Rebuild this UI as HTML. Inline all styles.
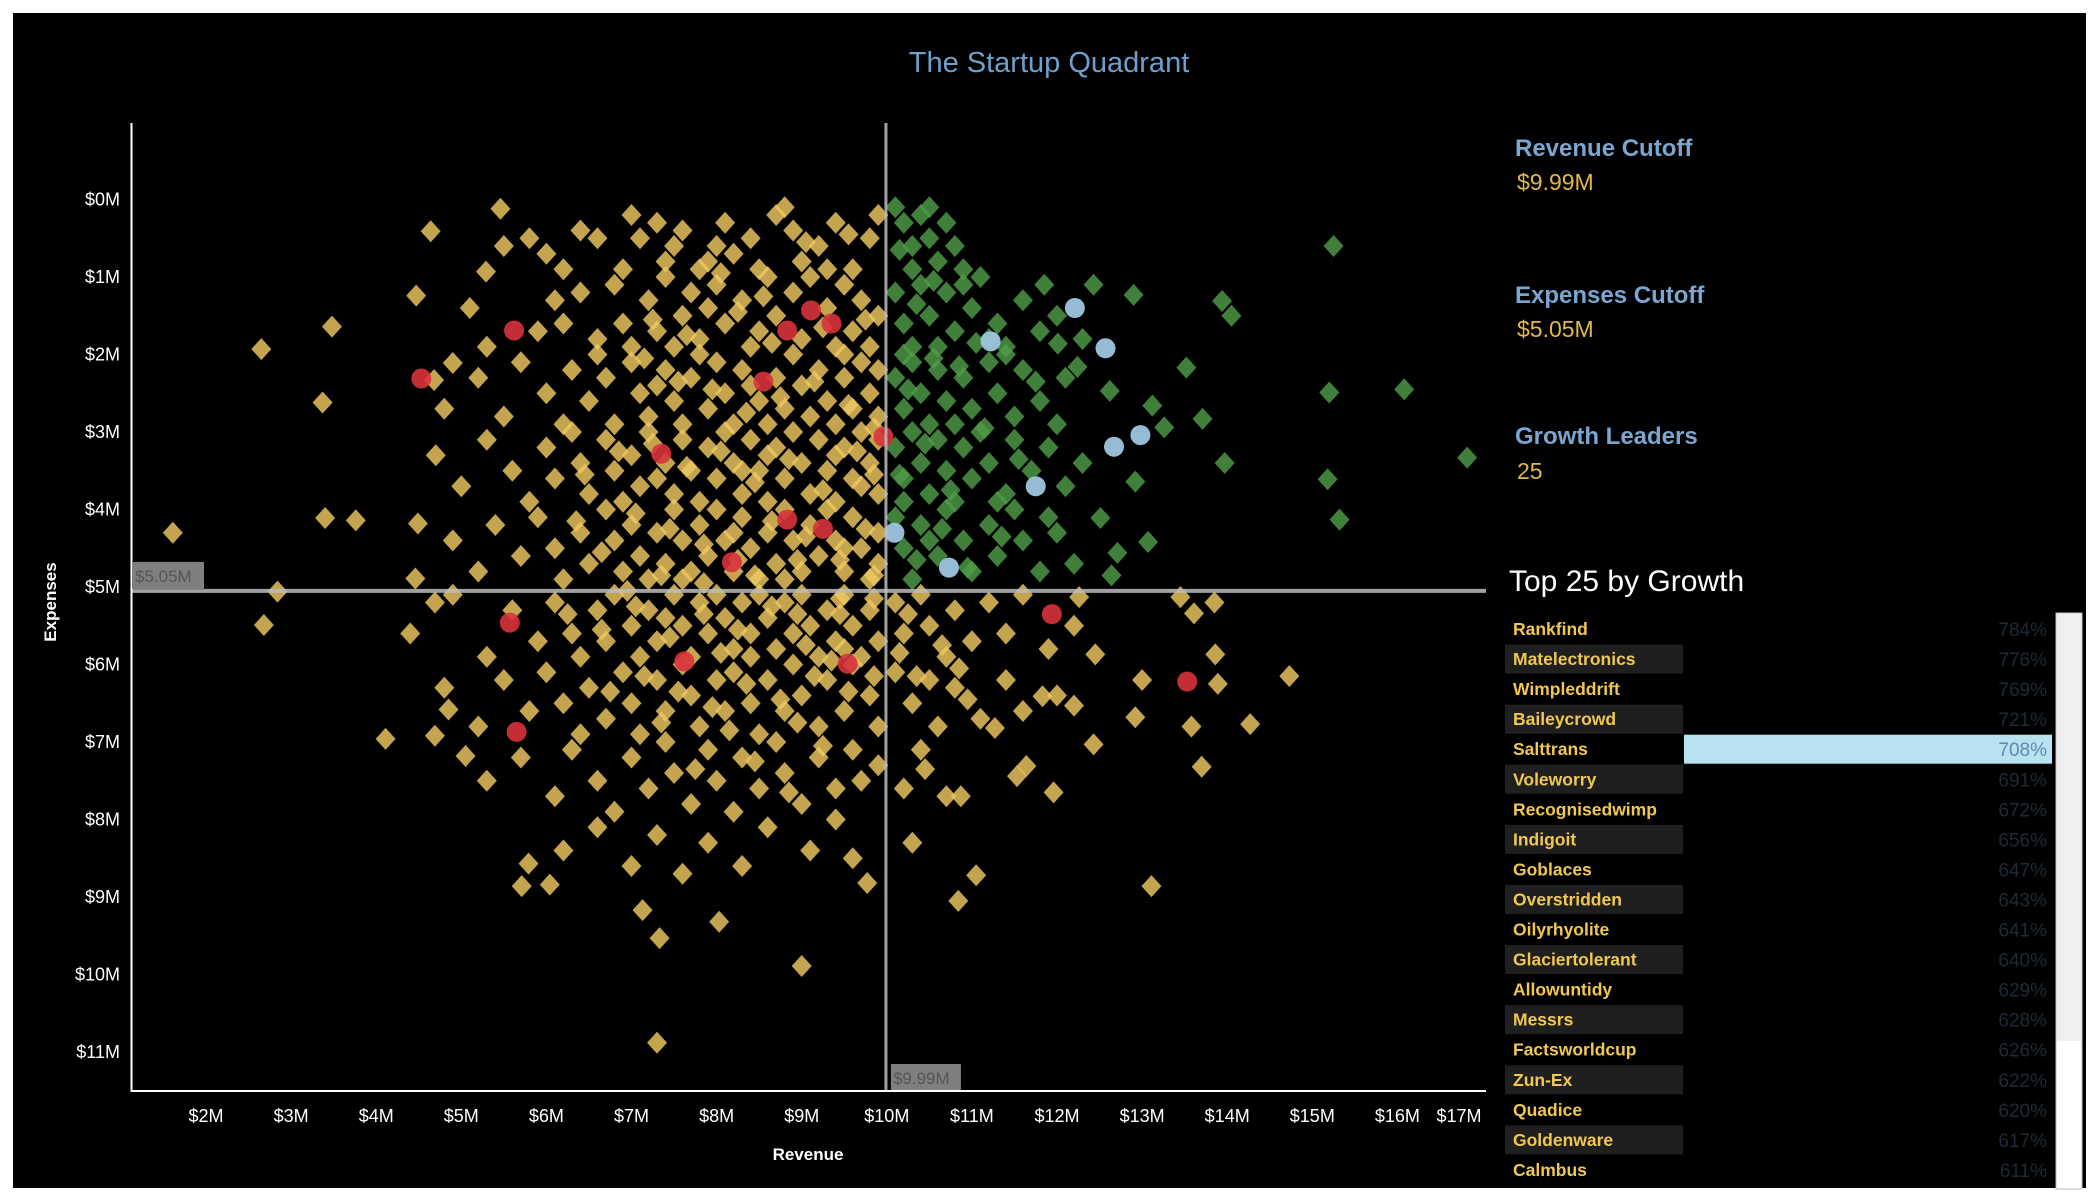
<!DOCTYPE html>
<html><head><meta charset="utf-8"><title>The Startup Quadrant</title>
<style>
html,body{margin:0;padding:0;background:#fff;}
svg{display:block;font-family:"Liberation Sans",sans-serif;}
</style></head>
<body>
<svg id="chart" width="2099" height="1199" viewBox="0 0 2099 1199" xmlns="http://www.w3.org/2000/svg">
<rect x="13" y="13" width="2073" height="1175" fill="#000"/>
<text x="1049" y="72" text-anchor="middle" font-size="29" fill="#6f9fcc">The Startup Quadrant</text>
<g id="plot"></g>
<g id="axes"></g>
<text x="808" y="1160" text-anchor="middle" font-size="17" font-weight="bold" fill="#fff">Revenue</text>
<text x="0" y="0" transform="translate(56,602) rotate(-90)" text-anchor="middle" font-size="17" font-weight="bold" fill="#fff">Expenses</text>

<g>
<text x="1515" y="156" font-size="24" font-weight="bold" fill="#7aa6d0">Revenue Cutoff</text>
<text x="1517" y="190" font-size="23" fill="#e3b74a">$9.99M</text>
<text x="1515" y="303" font-size="24" font-weight="bold" fill="#7aa6d0">Expenses Cutoff</text>
<text x="1517" y="337" font-size="23" fill="#e3b74a">$5.05M</text>
<text x="1515" y="444" font-size="24" font-weight="bold" fill="#7aa6d0">Growth Leaders</text>
<text x="1517" y="479" font-size="23" fill="#e3b74a">25</text>
<text x="1509" y="591" font-size="30" fill="#fff">Top 25 by Growth</text>
</g>
<g id="list"></g>
<g>
<rect x="2056" y="613" width="26" height="576" fill="#fff" stroke="#bbb" stroke-width="1"/>
<rect x="2057" y="614" width="24" height="427" fill="#efefef"/>
</g>
</svg>
<script>
const revCutoff = 9.99;
const expCutoff = 5.05;
const xTicks = [2,3,4,5,6,7,8,9,10,11,12,13,14,15,16,17];
const yTicks = [0,1,2,3,4,5,6,7,8,9,10,11];
// [revenue $M, expenses $M]
const companies = [
[1.61,4.30],[2.65,1.93],[2.68,5.49],[2.84,5.06],[3.37,2.62],[3.40,4.11],[3.48,1.64],[3.76,4.14],[4.11,6.96],[4.47,1.24],[4.49,4.18],[4.46,4.89],[4.64,0.41],[4.69,5.20],[4.68,2.33],[4.85,6.58],[4.69,6.92],[5.05,7.18],[5.46,0.12],[5.29,0.93],[4.90,2.11],[5.79,8.57],[5.71,8.86],[6.04,8.84],[7.13,9.17],[7.33,9.53],[7.30,10.88],[8.03,9.32],[9.00,9.89],[9.77,8.82],[10.84,9.05],[11.05,8.72],[13.11,8.86],[10.87,7.70],[11.96,7.65],[12.43,7.03],[13.70,7.32],[14.27,6.77],[14.73,6.15],[13.86,5.87],[13.45,5.13],[13.85,5.20],[13.61,5.34],[12.92,6.68],[13.00,6.20],[12.26,5.13],[13.89,6.25],[13.58,6.80],[12.45,5.87],[11.83,6.41],[12.20,6.53],[11.64,7.31],[11.53,7.44],[11.27,6.82],
[15.25,0.60],[16.08,2.45],[16.82,3.33],[15.20,2.49],[15.18,3.61],[15.32,4.13],[13.97,3.40],[13.94,1.31],[14.05,1.50],[13.52,2.17],[13.71,2.83],[13.07,4.42],[12.90,1.23],[12.43,1.10],[11.85,1.10],[12.01,1.86],[12.24,2.16],[12.62,2.47],[13.12,2.66],[13.26,2.94],[12.92,3.64],[12.51,4.11],[12.71,4.56],[12.64,4.85],
[5.5,0.6],[5.8,0.5],[6.0,0.7],[6.4,0.4],[6.6,0.5],[7.0,0.2],[7.1,0.5],[7.3,0.3],[7.5,0.6],[7.6,0.4],[7.9,0.8],[8.1,0.3],[8.2,0.7],[8.4,0.5],[8.5,0.9],[8.7,0.2],[8.9,0.4],[9.0,0.8],[9.2,0.6],[9.4,0.3],[9.6,0.9],[9.8,0.5],[9.9,0.2],[8.8,0.1],[7.8,0.9],[6.9,0.9],[7.4,0.8],[8.0,0.6],[9.3,0.9],[6.2,0.9],
[10.1,0.1],[10.2,0.3],[10.3,0.6],[10.4,0.2],[10.5,0.5],[10.6,0.8],[10.7,0.3],[10.8,0.6],[10.3,0.9],[10.9,0.9],[10.5,0.1],
[5.1,1.4],[5.3,1.9],[5.9,1.7],[6.2,1.6],[6.4,1.2],[6.6,1.8],[6.8,1.1],[6.9,1.6],[7.0,1.9],[7.2,1.3],[7.3,1.7],[7.4,1.0],[7.6,1.5],[7.7,1.2],[7.8,1.8],[8.0,1.1],[8.1,1.6],[8.3,1.3],[8.4,1.9],[8.6,1.0],[8.7,1.5],[8.9,1.2],[9.0,1.8],[9.1,1.0],[9.3,1.4],[9.5,1.1],[9.6,1.7],[9.7,1.3],[9.8,1.9],[9.9,1.5],[7.9,1.4],[8.5,1.7],[9.4,1.9],[6.1,1.3],[7.5,1.9],
[10.1,1.2],[10.2,1.6],[10.4,1.1],[10.5,1.5],[10.6,1.9],[10.7,1.2],[10.8,1.7],[11.0,1.4],[11.1,1.0],[11.3,1.6],[11.4,1.9],[11.6,1.3],[11.8,1.7],[12.0,1.5],[12.3,1.8],[10.3,1.9],[10.9,1.1],[11.2,1.8],
[4.8,2.7],[5.2,2.3],[5.5,2.8],[5.7,2.1],[6.0,2.5],[6.2,2.9],[6.3,2.2],[6.5,2.6],[6.7,2.3],[6.8,2.9],[7.0,2.1],[7.1,2.5],[7.2,2.8],[7.4,2.2],[7.5,2.6],[7.6,2.9],[7.7,2.3],[7.9,2.7],[8.0,2.1],[8.1,2.5],[8.2,2.9],[8.3,2.2],[8.5,2.6],[8.6,2.9],[8.7,2.3],[8.8,2.7],[8.9,2.0],[9.0,2.4],[9.1,2.8],[9.2,2.2],[9.3,2.6],[9.4,2.9],[9.5,2.3],[9.6,2.7],[9.7,2.1],[9.8,2.5],[9.9,2.8],[9.9,2.2],[6.6,2.0],[7.3,2.4],[8.4,2.4],[9.5,2.0],[7.8,2.0],
[10.1,2.3],[10.2,2.7],[10.3,2.1],[10.4,2.5],[10.5,2.9],[10.6,2.2],[10.7,2.6],[10.8,2.9],[10.9,2.3],[11.0,2.7],[11.2,2.1],[11.3,2.5],[11.5,2.8],[11.6,2.2],[11.8,2.6],[12.0,2.9],[12.1,2.3],[10.2,2.0],[11.4,2.0],
[4.7,3.3],[5.0,3.7],[5.3,3.1],[5.6,3.5],[5.8,3.9],[6.0,3.2],[6.1,3.6],[6.3,3.0],[6.4,3.4],[6.5,3.8],[6.7,3.1],[6.8,3.5],[6.9,3.9],[7.0,3.3],[7.1,3.7],[7.2,3.0],[7.4,3.4],[7.5,3.8],[7.6,3.1],[7.7,3.5],[7.8,3.9],[7.9,3.2],[8.0,3.6],[8.1,3.0],[8.2,3.4],[8.3,3.8],[8.4,3.1],[8.5,3.5],[8.6,3.9],[8.7,3.2],[8.8,3.6],[8.9,3.0],[9.0,3.4],[9.1,3.8],[9.2,3.1],[9.3,3.5],[9.4,3.9],[9.5,3.2],[9.6,3.6],[9.7,3.0],[9.8,3.4],[9.9,3.8],[9.9,3.1],[8.6,3.3],[7.3,3.6],[9.4,3.3],[8.3,3.5],[9.7,3.7],
[10.1,3.2],[10.2,3.6],[10.3,3.0],[10.4,3.4],[10.5,3.8],[10.6,3.1],[10.7,3.5],[10.8,3.9],[10.9,3.2],[11.0,3.6],[11.1,3.0],[11.2,3.4],[11.4,3.8],[11.5,3.1],[11.7,3.5],[11.9,3.2],[12.1,3.7],[12.3,3.4],[10.2,3.9],[11.3,3.9],
[4.9,4.4],[5.2,4.8],[5.4,4.2],[5.7,4.6],[5.9,4.1],[6.1,4.5],[6.2,4.9],[6.4,4.3],[6.5,4.7],[6.7,4.0],[6.8,4.4],[6.9,4.8],[7.0,4.2],[7.1,4.6],[7.2,4.9],[7.3,4.3],[7.4,4.7],[7.5,4.0],[7.6,4.4],[7.7,4.8],[7.8,4.2],[7.9,4.6],[8.0,4.0],[8.1,4.4],[8.2,4.8],[8.3,4.1],[8.4,4.5],[8.5,4.9],[8.6,4.3],[8.7,4.7],[8.8,4.0],[8.9,4.4],[9.0,4.8],[9.1,4.2],[9.2,4.6],[9.3,4.0],[9.4,4.4],[9.5,4.8],[9.6,4.1],[9.7,4.5],[9.8,4.9],[9.9,4.3],[9.9,4.7],[8.2,4.3],[9.5,4.5],[7.6,4.9],[8.8,4.9],
[10.1,4.1],[10.2,4.5],[10.3,4.9],[10.4,4.2],[10.6,4.6],[10.7,4.0],[10.9,4.4],[11.0,4.8],[11.2,4.2],[11.3,4.6],[11.5,4.0],[11.6,4.4],[11.8,4.8],[12.0,4.3],[12.2,4.7],[11.9,4.1],[10.5,4.4],
[4.4,5.6],[4.9,5.1],[5.3,5.9],[5.6,5.3],[5.9,5.7],[6.1,5.2],[6.3,5.6],[6.4,5.9],[6.6,5.3],[6.7,5.7],[6.8,5.1],[7.0,5.5],[7.1,5.9],[7.2,5.3],[7.3,5.7],[7.5,5.1],[7.6,5.5],[7.7,5.9],[7.8,5.2],[7.9,5.6],[8.0,5.1],[8.1,5.4],[8.2,5.8],[8.3,5.2],[8.4,5.6],[8.5,5.1],[8.6,5.4],[8.7,5.8],[8.8,5.2],[8.9,5.6],[9.0,5.1],[9.1,5.5],[9.2,5.9],[9.3,5.3],[9.4,5.7],[9.5,5.1],[9.6,5.5],[9.7,5.9],[9.8,5.3],[9.9,5.7],[10.1,5.2],[10.2,5.6],[10.4,5.1],[10.5,5.5],[10.7,5.9],[10.8,5.3],[11.0,5.7],[11.2,5.2],[11.4,5.6],[11.6,5.1],[11.9,5.8],[12.2,5.5],[8.4,5.9],[9.5,5.8],[7.4,5.4],
[4.8,6.3],[5.2,6.8],[5.5,6.2],[5.8,6.6],[6.0,6.1],[6.2,6.5],[6.4,6.9],[6.5,6.3],[6.7,6.7],[6.9,6.1],[7.0,6.5],[7.1,6.9],[7.3,6.2],[7.4,6.6],[7.6,6.0],[7.7,6.4],[7.8,6.8],[8.0,6.2],[8.1,6.6],[8.2,6.1],[8.4,6.5],[8.5,6.9],[8.6,6.2],[8.8,6.6],[8.9,6.0],[9.0,6.4],[9.2,6.8],[9.3,6.2],[9.5,6.6],[9.6,6.0],[9.8,6.4],[9.9,6.8],[10.1,6.1],[10.3,6.5],[10.5,6.2],[10.6,6.8],[10.8,6.3],[11.1,6.7],[11.4,6.2],[11.6,6.6],[12.0,6.4],
[5.3,7.5],[5.7,7.2],[6.1,7.7],[6.3,7.1],[6.6,7.5],[6.8,7.9],[7.0,7.2],[7.2,7.6],[7.4,7.0],[7.5,7.4],[7.7,7.8],[7.9,7.1],[8.0,7.5],[8.2,7.9],[8.3,7.2],[8.5,7.6],[8.7,7.0],[8.8,7.4],[9.0,7.8],[9.2,7.2],[9.4,7.6],[9.6,7.1],[9.7,7.5],[9.9,7.3],[10.2,7.6],[10.4,7.1],[10.7,7.7],
[6.2,8.4],[6.6,8.1],[7.0,8.6],[7.3,8.2],[7.6,8.7],[7.9,8.3],[8.3,8.6],[8.6,8.1],[9.1,8.4],[9.4,8.0],[9.6,8.5],[10.3,8.3],
[7.15,2.05],[7.55,2.35],[7.95,2.45],[8.35,2.75],[8.75,2.55],[9.15,2.35],[9.55,2.65],[9.85,2.95],[7.25,3.15],[7.65,3.45],[8.05,3.25],[8.45,3.65],[8.85,3.35],[9.25,3.75],[9.65,3.25],[9.85,3.55],[6.85,3.25],[6.45,3.55],
[7.05,4.05],[7.45,4.25],[7.85,4.45],[8.25,4.65],[8.65,4.15],[9.05,4.35],[9.45,4.65],[9.75,4.25],[9.85,4.85],[6.65,4.55],[6.35,4.15],[8.45,4.85],[8.95,4.65],[7.35,4.85],
[7.05,5.25],[7.45,5.65],[7.85,5.35],[8.25,5.55],[8.65,5.25],[9.05,5.75],[9.45,5.35],[9.85,5.15],[6.65,5.55],[6.25,5.35],[8.05,5.85],[8.95,5.35],[9.35,5.95],
[7.15,6.15],[7.55,6.35],[7.95,6.55],[8.35,6.25],[8.75,6.45],[9.15,6.15],[9.55,6.35],[9.85,6.15],[6.75,6.35],[8.15,6.85],[8.95,6.75],[7.35,6.75],
[7.25,1.55],[7.65,1.75],[8.25,1.45],[8.65,1.85],[9.25,1.65],[9.75,1.55],[8.05,0.95],[8.55,1.25],[9.05,0.55],[9.55,0.45],
[10.15,0.65],[10.35,1.35],[10.55,2.05],[10.25,2.45],[10.45,3.15],[10.15,3.55],[10.65,4.25],[10.35,4.65],[10.85,2.15],[10.75,3.75],[11.05,1.85],[11.15,2.95],[11.35,4.35],[10.55,1.05],[10.95,4.75],[11.55,3.35],[11.75,2.35],
[10.25,5.35],[10.65,5.75],[10.35,6.15],[10.85,6.05],[10.15,5.85],[10.45,7.35],[10.95,6.45],[8.45,7.25],[8.85,7.65],[9.25,7.05],[7.75,7.35],[9.45,5.15],[6.95,5.05],[7.85,4.95]
];
// highlighted companies: red = decliners, blue = growth leaders in quadrant
const redRevenue  = [4.53,5.62,8.83,9.11,9.35,8.55,7.35,9.96,8.83,9.25,8.18,5.57,7.62,9.54,11.94,13.53,5.65];
const redExpenses = [2.31,1.69,1.69,1.43,1.60,2.35,3.28,3.06,4.13,4.25,4.68,5.46,5.96,5.99,5.35,6.22,6.87];
const blueRevenue  = [11.22,12.21,12.57,12.67,12.98,11.75,10.09,10.73];
const blueExpenses = [1.83,1.40,1.92,3.19,3.04,3.70,4.30,4.75];
const listNames = ["Rankfind","Matelectronics","Wimpleddrift","Baileycrowd","Salttrans","Voleworry","Recognisedwimp","Indigoit","Goblaces","Overstridden","Oilyrhyolite","Glaciertolerant","Allowuntidy","Messrs","Factsworldcup","Zun-Ex","Quadice","Goldenware","Calmbus"];
const listGrowth = [784,776,769,721,708,691,672,656,647,643,641,640,629,628,626,622,620,617,611];
const selectedIndex = 4;

const NS = "http://www.w3.org/2000/svg";
const X0 = 206, XS = 85.1, Y0 = 199.5, YS = 77.5;
const xScale = v => X0 + (v - 2) * XS;
const yScale = v => Y0 + v * YS;
function mk(tag, attrs, parent){ const e=document.createElementNS(NS,tag); for(const k in attrs) e.setAttribute(k,attrs[k]); parent.appendChild(e); return e; }

const plot = document.getElementById('plot');
const axes = document.getElementById('axes');

companies.forEach(p => {
  const cx = xScale(p[0]), cy = yScale(p[1]);
  const green = p[0] >= revCutoff && p[1] < expCutoff;
  const d = mk('path', {d:`M${cx} ${cy-11}L${cx+10} ${cy}L${cx} ${cy+11}L${cx-10} ${cy}Z`, fill: green ? '#4f9c48' : '#efc860', 'fill-opacity':'0.82'}, plot);
  
  
});
redRevenue.forEach((r,i) => {
  const c = mk('circle', {cx:xScale(r), cy:yScale(redExpenses[i]), r:10, fill:'#d8323c', 'fill-opacity':'0.9'}, plot);
  
  
});
blueRevenue.forEach((r,i) => {
  const c = mk('circle', {cx:xScale(r), cy:yScale(blueExpenses[i]), r:10, fill:'#9dc6df', 'fill-opacity':'0.95'}, plot);
  
  
});

// reference lines
const vx = xScale(revCutoff), hy = yScale(expCutoff);
let e;
e = mk('line', {x1:vx, y1:123, x2:vx, y2:1091, stroke:'#bdbdbd', 'stroke-width':3, 'stroke-opacity':0.85}, axes);


e = mk('line', {x1:131, y1:hy, x2:1486, y2:hy, stroke:'#bdbdbd', 'stroke-width':4, 'stroke-opacity':0.85}, axes);


e = mk('rect', {x:133, y:hy-29, width:71, height:28, fill:'#7f7f7f'}, axes);


e = mk('text', {x:135, y:hy-9, 'font-size':17, fill:'#555'}, axes); e.textContent = '$5.05M';


e = mk('rect', {x:vx+5, y:1064, width:70, height:27, fill:'#7f7f7f'}, axes);


e = mk('text', {x:vx+7, y:1084, 'font-size':17, fill:'#555'}, axes); e.textContent = '$9.99M';



// axis lines
e = mk('line', {x1:131.5, y1:123, x2:131.5, y2:1092, stroke:'#fff', 'stroke-width':2}, axes);


e = mk('line', {x1:131, y1:1091, x2:1486, y2:1091, stroke:'#fff', 'stroke-width':2}, axes);



xTicks.forEach(v => {
  const t = mk('text', {x: Math.min(xScale(v), 1459), y:1122, 'text-anchor':'middle', 'font-size':18, fill:'#fff'}, axes);
  t.textContent = '$' + v + 'M';
  
  
});
yTicks.forEach(v => {
  const t = mk('text', {x:120, y:yScale(v)+6, 'text-anchor':'end', 'font-size':18, fill:'#fff'}, axes);
  t.textContent = '$' + v + 'M';
  
  
});

// list
const list = document.getElementById('list');
listNames.forEach((n,i) => {
  const cy = 629 + i * 30.05;
  if (i % 2 === 1) {
    const b = mk('rect', {x:1505, y:cy-14.5, width:178, height:29, fill:'#1f1f1f'}, list);
    
    
  }
  if (i === selectedIndex) {
    const h = mk('rect', {x:1684, y:cy-14.5, width:368, height:29, fill:'#b8e2f0'}, list);
    
    
  }
  const t = mk('text', {x:1513, y:cy+6, 'font-size':17.5, 'font-weight':'bold', fill:'#f0c850'}, list);
  t.textContent = n;
  
  
  const g = mk('text', {x:2047, y:cy+7, 'text-anchor':'end', 'font-size':19, fill: i===selectedIndex ? '#5a8ab5' : '#1f2a35'}, list);
  g.textContent = listGrowth[i] + '%';
  
  
});
</script>
</body></html>
